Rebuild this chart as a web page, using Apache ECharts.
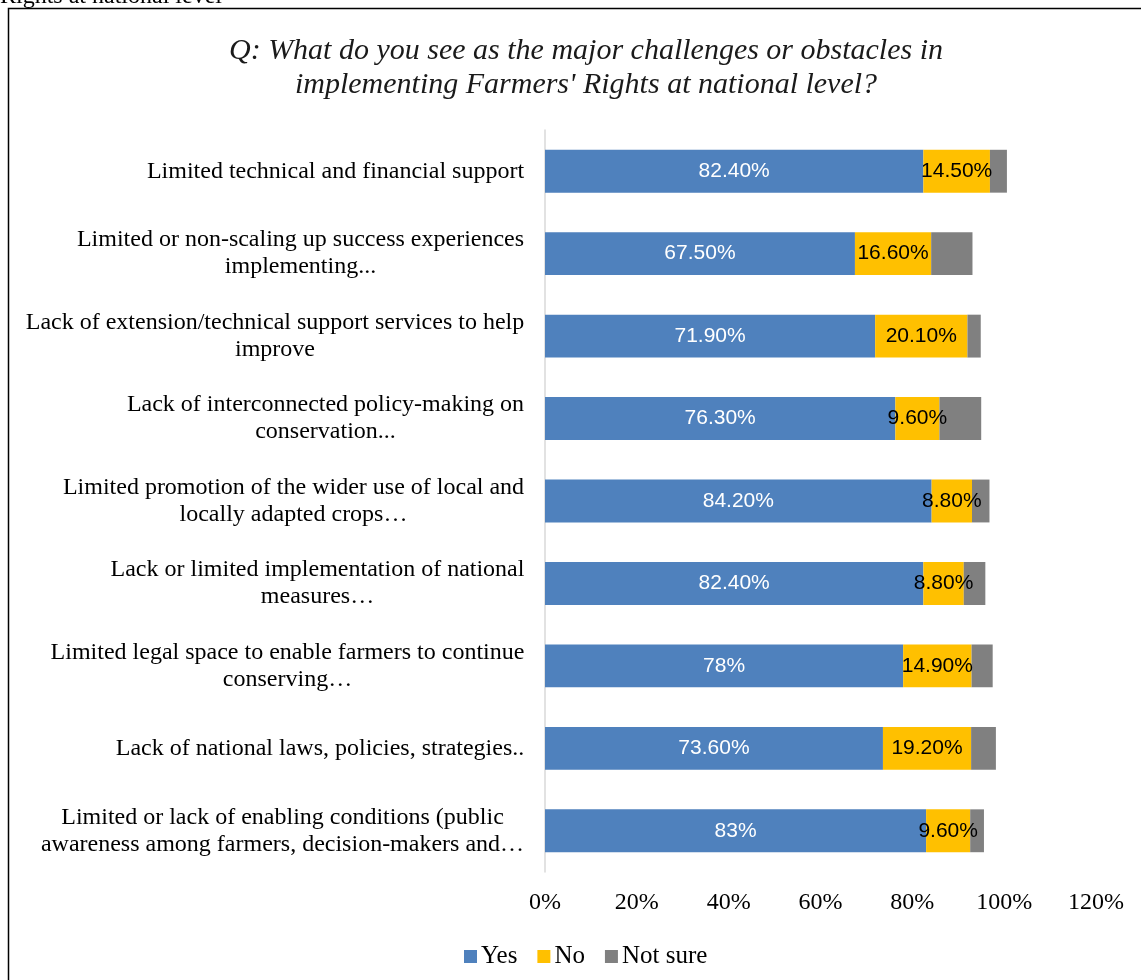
<!DOCTYPE html>
<html><head><meta charset="utf-8">
<script src="https://cdn.jsdelivr.net/npm/echarts@6/dist/echarts.min.js"></script>
<style>html,body{margin:0;padding:0;background:#fff}#c{width:1141px;height:980px}</style>
</head><body><div id="c"></div>
<script>
var categories = [
  "Limited technical and financial support",
  "Limited or non-scaling up success experiences\nimplementing...",
  "Lack of extension/technical support services to help\nimprove",
  "Lack of interconnected policy-making on\nconservation...",
  "Limited promotion of the wider use of local and\nlocally adapted crops\u2026",
  "Lack or limited implementation of national\nmeasures\u2026",
  "Limited legal space to enable farmers to continue\nconserving\u2026",
  "Lack of national laws, policies, strategies..",
  "Limited or lack of enabling conditions (public\nawareness among farmers, decision-makers and\u2026"
];
var yesVals = [82.4, 67.5, 71.9, 76.3, 84.2, 82.4, 78, 73.6, 83];
var noVals = [14.5, 16.6, 20.1, 9.6, 8.8, 8.8, 14.9, 19.2, 9.6];
var notSureVals = [3.7, 9.0, 2.9, 9.1, 3.8, 4.7, 4.6, 5.4, 3.0];
var yesLabels = ["82.40%", "67.50%", "71.90%", "76.30%", "84.20%", "82.40%", "78%", "73.60%", "83%"];
var noLabels = ["14.50%", "16.60%", "20.10%", "9.60%", "8.80%", "8.80%", "14.90%", "19.20%", "9.60%"];
var xTicks = ["0%", "20%", "40%", "60%", "80%", "100%", "120%"];
var titleLines = ["Q: What do you see as the major challenges or obstacles in", "implementing Farmers' Rights at national level?"];

var serif = '"Liberation Serif","Times New Roman",serif';
var sans = '"Liberation Sans","Open Sans",sans-serif';
var catFont = 24;

// rich styles so wrapped lines are centred within each label block
var ctx = document.createElement('canvas').getContext('2d');
ctx.font = catFont + 'px ' + serif;
var rich = {};
categories.forEach(function (c, i) {
  var w = 0;
  c.split('\n').forEach(function (l) { w = Math.max(w, ctx.measureText(l).width); });
  rich['c' + i] = {width: Math.ceil(w) + 1, align: 'center', fontFamily: serif, fontSize: catFont, lineHeight: 27, color: '#000'};
});

var chart = echarts.init(document.getElementById('c'), null, {renderer: 'canvas'});
function mk(name, vals, color, labels, labelColor) {
  return {
    name: name, type: 'bar', stack: 'total', barCategoryGap: '48%',
    itemStyle: {color: color},
    data: vals,
    label: labels ? {
      show: true, position: 'inside', color: labelColor,
      fontFamily: sans, fontSize: 21,
      formatter: function (p) { return labels[p.dataIndex]; }
    } : {show: false},
    emphasis: {disabled: true}
  };
}
chart.setOption({
  animation: false,
  backgroundColor: '#fff',
  title: {
    text: titleLines.join('\n'), left: 581, textAlign: 'center', top: 29,
    textStyle: {fontFamily: serif, fontStyle: 'italic', fontWeight: 'normal', fontSize: 30, color: '#1a1a1a', lineHeight: 34}
  },
  graphic: [
    {type: 'rect', shape: {x: 8.5, y: 8.5, width: 1200, height: 1100}, style: {fill: 'none', stroke: '#000', lineWidth: 1.5}, silent: true},
    {type: 'text', left: 0, top: -15, style: {text: 'Rights at national level', font: '24px ' + serif, fill: '#000'}, silent: true}
  ],
  legend: {
    data: ['Yes', 'No', 'Not sure'], top: 939, left: 459,
    itemWidth: 13, itemHeight: 13, itemGap: 20, icon: 'rect',
    textStyle: {fontFamily: serif, fontSize: 25, color: '#000', padding: [0, 0, 0, -1]}
  },
  grid: {left: 545, right: 45, top: 130, bottom: 108, containLabel: false},
  xAxis: {
    type: 'value', min: 0, max: 120, interval: 20,
    axisLine: {show: false}, axisTick: {show: false}, splitLine: {show: false},
    axisLabel: {fontFamily: serif, fontSize: 24, color: '#000', margin: 19,
      formatter: function (v) { return xTicks[Math.round(v / 20)]; }}
  },
  yAxis: {
    type: 'category', inverse: true, data: categories,
    axisLine: {show: true, lineStyle: {color: '#d9d9d9', width: 1.5}},
    axisTick: {show: false},
    axisLabel: {
      margin: 20, align: 'right', rich: rich,
      formatter: function (v, i) {
        return v.split('\n').map(function (l) { return '{c' + i + '|' + l + '}'; }).join('\n');
      }
    }
  },
  series: [
    mk('Yes', yesVals, '#4f81bd', yesLabels, '#fff'),
    mk('No', noVals, '#ffc000', noLabels, '#000'),
    mk('Not sure', notSureVals, '#808080', null, null)
  ]
});
</script></body></html>
